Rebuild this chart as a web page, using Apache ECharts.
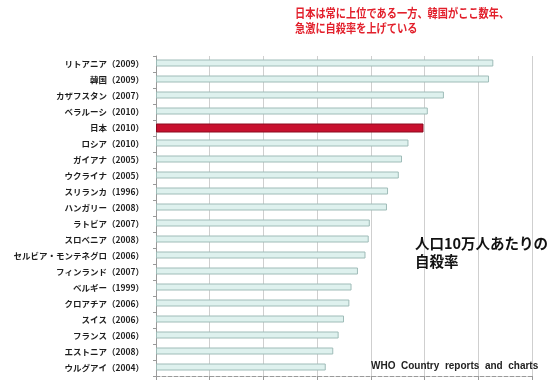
<!DOCTYPE html>
<html>
<head>
<meta charset="utf-8">
<script src="https://cdn.jsdelivr.net/npm/echarts@6/dist/echarts.min.js"></script>
<style>
html,body{margin:0;padding:0;background:#fff;}
#chart{width:559px;height:384px;}
</style>
</head>
<body>
<div id="chart"></div>
<script>
// Data
const categories = [
  'リトアニア（2009）','韓国（2009）','カザフスタン（2007）','ベラルーシ（2010）','日本（2010）',
  'ロシア（2010）','ガイアナ（2005）','ウクライナ（2005）','スリランカ（1996）','ハンガリー（2008）',
  'ラトビア（2007）','スロベニア（2008）','セルビア・モンテネグロ（2006）','フィンランド（2007）','ベルギー（1999）',
  'クロアチア（2006）','スイス（2006）','フランス（2006）','エストニア（2008）','ウルグアイ（2004）'
];
const rates = [31.4, 31.0, 26.8, 25.3, 24.9, 23.5, 22.9, 22.6, 21.6, 21.5,
               19.9, 19.8, 19.5, 18.8, 18.2, 18.0, 17.5, 17.0, 16.5, 15.8];
const highlight = '日本（2010）';
const xTicks = [0, 5, 10, 15, 20, 25, 30, 35];

const chart = echarts.init(document.getElementById('chart'));
const jp = '"Noto Sans CJK JP", "Noto Sans", sans-serif';

const otherData = categories.map((c, i) => (c === highlight ? null : rates[i]));
const highlightData = categories.map((c, i) => (c === highlight ? rates[i] : null));

chart.setOption({
  animation: false,
  backgroundColor: '#ffffff',
  grid: { left: 156, right: 27, top: 56, bottom: 8, containLabel: false },
  xAxis: {
    type: 'value',
    min: xTicks[0],
    max: xTicks[xTicks.length - 1],
    interval: 5,
    axisLabel: { show: false },
    axisLine: { show: true, lineStyle: { color: '#9a9a9a', type: 'dashed', width: 1 } },
    axisTick: { show: true, length: 4, lineStyle: { color: '#9a9a9a' } },
    splitLine: { show: true, lineStyle: { color: '#cfcfcf', width: 1 } }
  },
  yAxis: {
    type: 'category',
    data: categories,
    inverse: true,
    axisLine: { show: true, lineStyle: { color: '#9a9a9a', width: 1 } },
    axisTick: { show: true, length: 3, lineStyle: { color: '#9a9a9a' } },
    axisLabel: {
      margin: 12,
      fontFamily: jp,
      fontWeight: 'bold',
      fontSize: 8.5,
      color: '#1e1e1e'
    }
  },
  series: [
    {
      type: 'bar',
      data: otherData,
      barWidth: 7,
      z: 3,
      itemStyle: { color: '#def1ee', borderColor: '#9fbcb8', borderWidth: 1 }
    },
    {
      type: 'bar',
      data: highlightData,
      barWidth: 9,
      barGap: '-100%',
      z: 4,
      itemStyle: { color: '#c8102e', borderColor: '#8c0a1f', borderWidth: 1 }
    }
  ],
  graphic: [
    {
      type: 'text', left: 295, top: 6, z: 10,
      scaleX: 0.85,
      style: {
        text: '日本は常に上位である一方、韓国がここ数年、\n急激に自殺率を上げている',
        fill: '#e2202c', fontFamily: jp, fontWeight: 'bold', fontSize: 12, lineHeight: 15
      }
    },
    {
      type: 'text', left: 415, top: 234, z: 10,
      style: {
        text: '人口10万人あたりの\n自殺率',
        fill: '#111111', fontFamily: jp, fontWeight: 'bold', fontSize: 14.5, lineHeight: 18
      }
    },
    {
      type: 'text', left: 371, top: 361, z: 10,
      style: {
        text: 'WHO  Country  reports  and  charts',
        fill: '#222222', fontFamily: '"Liberation Sans", Arial, sans-serif',
        fontWeight: 'bold', fontSize: 10
      }
    }
  ]
});
</script>
</body>
</html>
